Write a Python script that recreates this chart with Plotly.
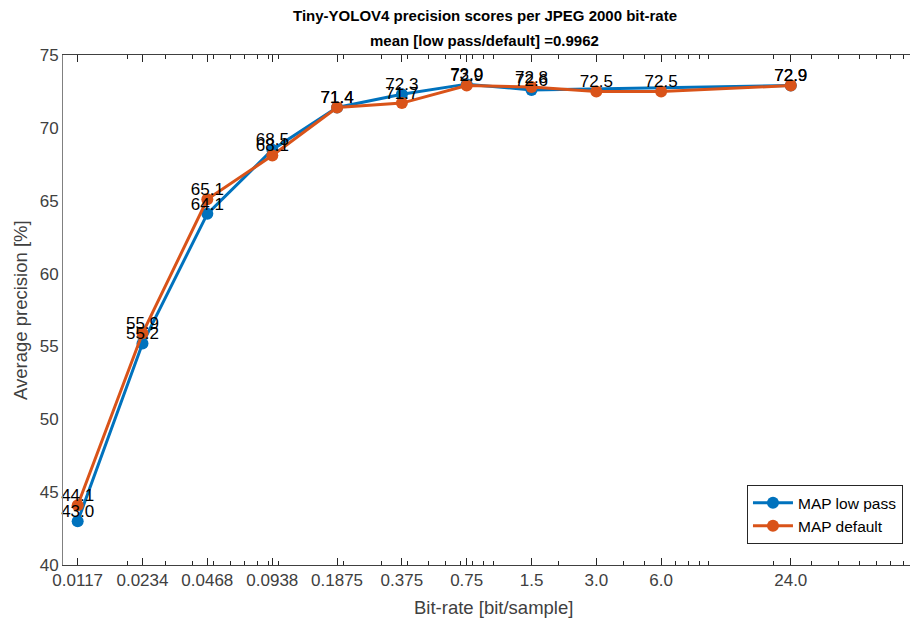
import plotly.graph_objects as go

# Bit-rates tested (bit/sample) and their tick labels
bitrates = [0.0117, 0.0234, 0.0468, 0.0938, 0.1875, 0.375, 0.75, 1.5, 3.0, 6.0, 24.0]
tick_labels = ["0.0117", "0.0234", "0.0468", "0.0938", "0.1875", "0.375", "0.75",
               "1.5", "3.0", "6.0", "24.0"]

# Mean average precision [%] per bit-rate (None = not evaluated)
map_low_pass = [43.0, 55.2, 64.1, 68.5, 71.4, 72.3, 73.0, 72.6, None, None, 72.9]
map_default = [44.1, 55.9, 65.1, 68.1, 71.4, 71.7, 72.9, 72.8, 72.5, 72.5, 72.9]

BLUE = "#0072BD"
ORANGE = "#D95319"
FONT = "Liberation Sans, Arial, sans-serif"

def labels(vals):
    return ["" if v is None else f"{v:.1f}" for v in vals]

fig = go.Figure()
series = [("MAP low pass", map_low_pass, BLUE), ("MAP default", map_default, ORANGE)]
for name, vals, col in series:
    fig.add_trace(go.Scatter(
        x=bitrates, y=vals, name=name, mode="lines+markers",
        connectgaps=True,
        line=dict(color=col, width=3),
        marker=dict(color=col, size=12),
    ))
# value labels drawn just above each point
for name, vals, col in series:
    fig.add_trace(go.Scatter(
        x=bitrates, y=vals, mode="text", showlegend=False, hoverinfo="skip",
        text=labels(vals), textposition="top center",
        textfont=dict(family=FONT, size=17, color="#000000"),
        cliponaxis=False,
    ))

# minor ticks at every 1..9 multiple of each decade
minor_vals = [m * 10.0 ** e for e in range(-2, 2) for m in range(1, 10)]

fig.update_layout(
    width=910, height=623,
    margin=dict(l=63, r=0, t=55, b=58),
    paper_bgcolor="white", plot_bgcolor="white",
    font=dict(family=FONT, size=17, color="#404040"),
    showlegend=True,
    legend=dict(x=0.9917, xanchor="right", y=0.041, yanchor="bottom",
                bgcolor="white", bordercolor="#262626", borderwidth=1,
                font=dict(family=FONT, size=15.5, color="#000000"),
                tracegroupgap=0, itemwidth=40),
    xaxis=dict(type="log", range=[-2, 1.934],
               tickvals=bitrates, ticktext=tick_labels,
               ticks="inside", ticklen=7, tickcolor="#262626",
               showline=True, linecolor="#404040", mirror="allticks",
               showgrid=False, zeroline=False,
               tickfont=dict(size=17, color="#404040"),
               minor=dict(tickvals=minor_vals, ticks="inside", ticklen=4,
                          tickcolor="#262626", showgrid=False)),
    yaxis=dict(range=[40, 75], tickvals=list(range(40, 80, 5)),
               ticks="", showline=True, linecolor="#808080", mirror=False,
               showgrid=False, zeroline=False,
               tickfont=dict(size=17, color="#404040")),
    annotations=[
        dict(text="<b>Tiny-YOLOV4 precision scores per JPEG 2000 bit-rate</b>",
             x=0.498, y=1.0765, xref="paper", yref="paper", showarrow=False,
             xanchor="center", yanchor="middle",
             font=dict(family=FONT, size=15, color="#000000")),
        dict(text="<b>mean [low pass/default] =0.9962</b>",
             x=0.498, y=1.0275, xref="paper", yref="paper", showarrow=False,
             xanchor="center", yanchor="middle",
             font=dict(family=FONT, size=15, color="#000000")),
        dict(text="Bit-rate [bit/sample]",
             x=0.5077, y=-0.0824, xref="paper", yref="paper", showarrow=False,
             xanchor="center", yanchor="middle",
             font=dict(family=FONT, size=18.5, color="#404040")),
        dict(text="Average precision [%]", textangle=-90,
             x=-0.0508, y=0.5, xref="paper", yref="paper", showarrow=False,
             xanchor="center", yanchor="middle",
             font=dict(family=FONT, size=18.5, color="#404040")),
    ],
)

fig.write_html("out.html")
